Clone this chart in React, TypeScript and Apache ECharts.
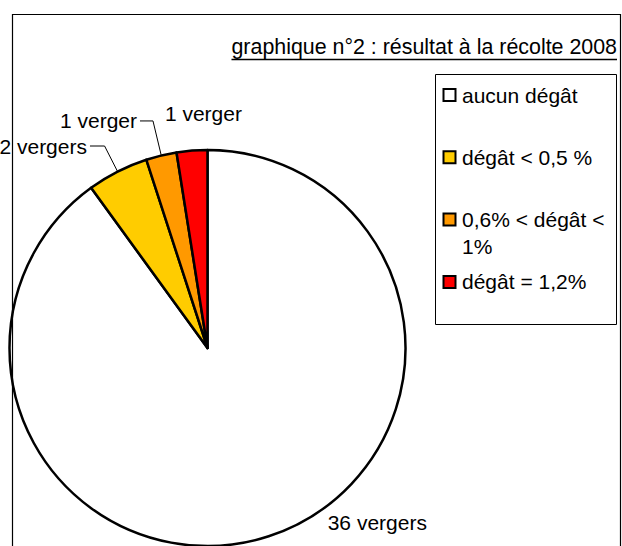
import React, { useEffect, useRef } from 'react';
import * as echarts from 'echarts';

const TITLE = 'graphique n°2 : résultat à la récolte 2008';
const categories = ['aucun dégât', 'dégât < 0,5 %', '0,6% < dégât < 1%', 'dégât = 1,2%'];
const orchardCounts = [36, 2, 1, 1];
const sliceColors = ['#FFFFFF', '#FFCC00', '#FF9900', '#FF0000'];
const unitSingular = 'verger';
const unitPlural = 'vergers';

const FONT = "'Liberation Sans', Arial, sans-serif";
const FONT_SIZE = 21;
const TITLE_SIZE = 21.4;

// label layout tuning per slice (styling only)
const labelTuning = [
  { line: false, length: 0, length2: 0, dx: 56, dy: -14 },
  { line: true, length: 28.7, length2: 14.6, dx: 0, dy: 0 },
  { line: true, length: 35.5, length2: 13, dx: 0, dy: 0 },
  { line: false, length: 0, length2: 0, dx: 53, dy: -37.6 },
];

// legend box layout (styling only)
const LEGEND_BOX = { x: 435.5, y: 74.5, width: 181, height: 250 };
const LEGEND_FIRST_ROW = 95;
const LEGEND_ROW_STEP = 62.3;
const LEGEND_MARKER_X = 443.5;
const LEGEND_MARKER_SIZE = 12;
const LEGEND_TEXT_X = 462;
const LEGEND_TEXT_WIDTH = 150;
const LEGEND_LINE_HEIGHT = 27;

function measure(text: string, size: number): number {
  const c = document.createElement('canvas').getContext('2d');
  if (!c) return text.length * size * 0.5;
  c.font = `${size}px 'Liberation Sans', Arial, sans-serif`;
  return c.measureText(text).width;
}

function wrapWords(text: string, maxWidth: number, size: number): string {
  const words = text.split(' ');
  const lines: string[] = [];
  let cur = '';
  words.forEach((w) => {
    const trial = cur ? cur + ' ' + w : w;
    if (cur && measure(trial, size) > maxWidth) {
      lines.push(cur);
      cur = w;
    } else {
      cur = trial;
    }
  });
  if (cur) lines.push(cur);
  return lines.join('\n');
}

export default function App() {
  const ref = useRef<HTMLDivElement>(null);
  useEffect(() => {
    if (!ref.current) return;
    const chart = echarts.init(ref.current, undefined, { renderer: 'svg' });
    const titleRight = 617;
    const titleW = measure(TITLE, TITLE_SIZE);

    const legendElements: any[] = [
      {
        type: 'rect',
        silent: true,
        shape: { ...LEGEND_BOX },
        style: { fill: '#fff', stroke: '#000', lineWidth: 1 },
      },
    ];
    categories.forEach((name, i) => {
      const cy = LEGEND_FIRST_ROW + i * LEGEND_ROW_STEP;
      legendElements.push({
        type: 'rect',
        silent: true,
        shape: {
          x: LEGEND_MARKER_X,
          y: cy - LEGEND_MARKER_SIZE / 2,
          width: LEGEND_MARKER_SIZE,
          height: LEGEND_MARKER_SIZE,
        },
        style: { fill: sliceColors[i], stroke: '#000', lineWidth: 2 },
      });
      legendElements.push({
        type: 'text',
        silent: true,
        x: LEGEND_TEXT_X,
        y: cy - LEGEND_LINE_HEIGHT / 2,
        style: {
          text: wrapWords(name, LEGEND_TEXT_WIDTH, FONT_SIZE),
          fill: '#000',
          fontSize: FONT_SIZE,
          fontFamily: FONT,
          lineHeight: LEGEND_LINE_HEIGHT,
          verticalAlign: 'top',
          align: 'left',
        },
      });
    });

    chart.setOption({
      animation: false,
      backgroundColor: '#fff',
      title: {
        text: TITLE,
        right: 622 - titleRight,
        top: 36.5,
        padding: 0,
        textStyle: { fontSize: TITLE_SIZE, fontWeight: 'normal', color: '#000', fontFamily: FONT },
      },
      graphic: [
        ...legendElements,
        {
          type: 'line',
          silent: true,
          shape: { x1: titleRight - titleW, y1: 59.5, x2: titleRight, y2: 59.5 },
          style: { stroke: '#000', lineWidth: 1.5 },
        },
        {
          type: 'rect',
          silent: true,
          z: 100,
          shape: { x: 12.5, y: 14.5, width: 608, height: 600 },
          style: { fill: 'transparent', stroke: '#000', lineWidth: 1.2 },
        },
      ],
      series: [
        {
          type: 'pie',
          center: [207.5, 348],
          radius: 198,
          startAngle: 90,
          clockwise: true,
          avoidLabelOverlap: false,
          silent: true,
          emphasis: { disabled: true },
          itemStyle: { borderColor: '#000', borderWidth: 2.5 },
          label: {
            show: true,
            position: 'outside',
            fontSize: FONT_SIZE,
            fontFamily: FONT,
            color: '#000',
            distanceToLabelLine: 3,
          },
          labelLine: { show: true, lineStyle: { color: '#000', width: 1 } },
          labelLayout: (p: any) => {
            const t = labelTuning[p.dataIndex];
            return t && (t.dx || t.dy) ? { dx: t.dx, dy: t.dy } : {};
          },
          data: orchardCounts.map((v, i) => ({
            name: categories[i],
            value: v,
            itemStyle: { color: sliceColors[i] },
            label: {
              formatter: `${v} ${v > 1 ? unitPlural : unitSingular}`,
            },
            labelLine: {
              show: labelTuning[i].line,
              length: labelTuning[i].length,
              length2: labelTuning[i].length2,
            },
          })),
        },
      ],
    });
    return () => chart.dispose();
  }, []);
  return (
    <div
      ref={ref}
      style={{ position: 'fixed', left: 0, top: 0, width: 622, height: 546 }}
    />
  );
}
